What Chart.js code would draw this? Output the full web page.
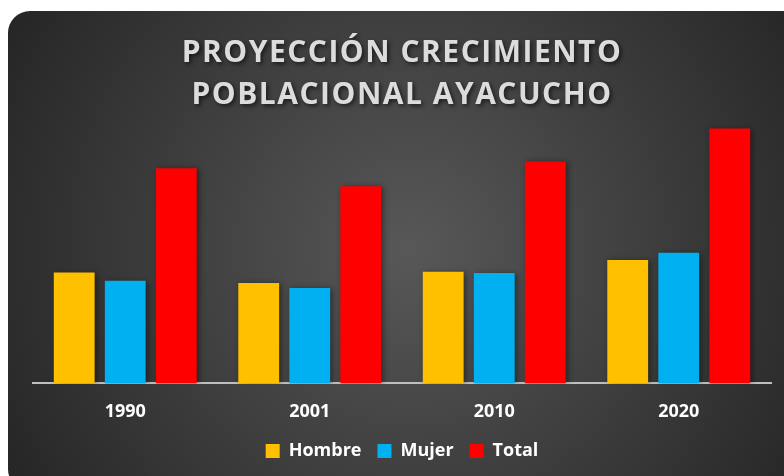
<!DOCTYPE html>
<html>
<head>
<meta charset="utf-8">
<script src="https://cdn.jsdelivr.net/npm/chart.js@4"></script>
<style>
  html, body { margin: 0; padding: 0; background: #ffffff; }
  #wrap { width: 784px; height: 476px; }
</style>
</head>
<body>
<div id="wrap"><canvas id="myChart"></canvas></div>
<script>
// values in thousands of inhabitants
const years = ['1990', '2001', '2010', '2020'];
const hombre = [290, 263, 292, 323];
const mujer = [269, 250, 289, 342];
const total = [563, 516, 581, 667];

const titleLines = ['PROYECCIÓN CRECIMIENTO', 'POBLACIONAL AYACUCHO'];

// dark rounded panel with a radial gradient
const panelBackground = {
    id: 'panelBackground',
    beforeDraw(chart) {
        const c = chart.ctx;
        c.save();
        const g = c.createRadialGradient(410, 250, 0, 410, 250, 470);
        g.addColorStop(0, '#585858');
        g.addColorStop(0.55, '#3c3c3c');
        g.addColorStop(1, '#252525');
        c.fillStyle = g;
        c.beginPath();
        c.roundRect(8, 11, 800, 480, 22);
        c.fill();
        c.restore();
    }
};

// title with letter spacing and a soft shadow
const titleStyle = {
    id: 'titleStyle',
    afterInit(chart) {
        const block = chart.titleBlock;
        const orig = block.draw;
        block.draw = function (area) {
            const c = chart.ctx;
            c.save();
            c.letterSpacing = '1.5px';
            c.shadowColor = 'rgba(0,0,0,0.6)';
            c.shadowBlur = 4;
            c.shadowOffsetX = 2;
            c.shadowOffsetY = 2;
            orig.call(this, area);
            c.restore();
        };
    }
};

const barShadow = {
    id: 'barShadow',
    beforeDatasetsDraw(chart) {
        const c = chart.ctx;
        c.save();
        c.shadowColor = 'rgba(0,0,0,0.45)';
        c.shadowBlur = 6;
        c.shadowOffsetX = 2;
        c.shadowOffsetY = 1;
    },
    afterDatasetsDraw(chart) {
        chart.ctx.restore();
    }
};

function initChart() {
    const ctx = document.getElementById('myChart');
    if (!ctx) {
        console.error('Canvas element not found');
        return;
    }

    new Chart(ctx, {
        type: 'bar',
        data: {
            labels: years,
            datasets: [
                { label: 'Hombre', data: hombre, backgroundColor: '#FFC000' },
                { label: 'Mujer', data: mujer, backgroundColor: '#00B0F0' },
                { label: 'Total', data: total, backgroundColor: '#FF0000' }
            ]
        },
        options: {
            responsive: true,
            maintainAspectRatio: false,
            animation: false,
            layout: {
                padding: { left: 33, right: 13, top: 0, bottom: 6 }
            },
            datasets: {
                bar: {
                    categoryPercentage: 0.83,
                    barPercentage: 0.8,
                    borderWidth: 0
                }
            },
            scales: {
                x: {
                    grid: { display: false },
                    border: { display: true, color: '#bfbfbf', width: 2 },
                    ticks: {
                        color: '#ffffff',
                        padding: 10,
                        font: { family: 'Open Sans', size: 18, weight: 'bold' }
                    },
                    afterFit(scale) {
                        scale.height -= 7;
                    }
                },
                y: {
                    display: false,
                    min: 0,
                    max: 700
                }
            },
            plugins: {
                title: {
                    display: true,
                    text: titleLines,
                    color: '#dcdcdc',
                    font: { family: 'Open Sans', size: 30, weight: 'bold', lineHeight: 1.4 },
                    padding: { top: 32, bottom: 0 }
                },
                legend: {
                    display: true,
                    position: 'bottom',
                    labels: {
                        color: '#ffffff',
                        boxWidth: 14,
                        boxHeight: 14,
                        padding: 16,
                        font: { family: 'Open Sans', size: 18, weight: 'bold' }
                    }
                },
                tooltip: { enabled: false }
            }
        },
        plugins: [panelBackground, titleStyle, barShadow]
    });
}

document.addEventListener('DOMContentLoaded', initChart);
</script>
</body>
</html>
